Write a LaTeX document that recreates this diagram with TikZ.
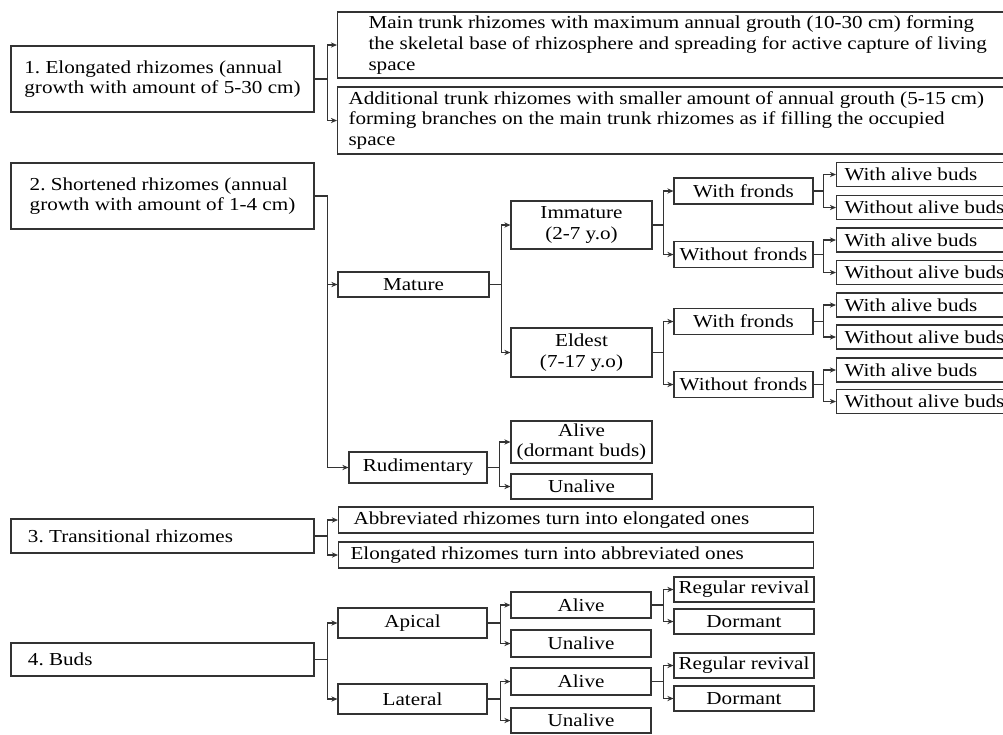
\documentclass[tikz,border=0pt]{standalone}
\usepackage{fontspec}
\setmainfont{Liberation Serif}[FakeStretch=1.155]
\usetikzlibrary{arrows.meta}

\begin{document}
\begin{tikzpicture}[
      box/.style={draw=black!80, line width=0.6pt, rectangle, inner sep=0pt, align=center, font=\fontsize{10.4}{11.8}\selectfont\frenchspacing},
      group/.style={box, minimum width=6.06cm, align=flush left},
      wide/.style={box, anchor=west, align=flush left},
      leaf/.style={box, anchor=west, align=flush left, inner xsep=0.16cm, text width=3.3cm, minimum height=0.48cm},
      fronds/.style={box, minimum width=2.78cm, minimum height=0.52cm},
      link/.style={draw=black!80, line width=0.6pt, -{Stealth[length=3.5pt,width=3pt]}}
    ]
    \useasboundingbox (0,0) rectangle (20.06,-14.68);

    % --- 1. Elongated rhizomes ---
    \node[group, minimum height=1.32cm] (r1) at (3.25,-1.58) {1. Elongated rhizomes (annual\\growth with amount of 5-30 cm)};
    \node[wide, inner xsep=0.62cm, text width=13.2cm, minimum height=1.32cm] (r1a) at (6.74,-0.9) {Main trunk rhizomes with maximum annual grouth (10-30 cm) forming\\the skeletal base of rhizosphere and spreading for active capture of living\\space};
    \node[wide, inner xsep=0.22cm, text width=13.4cm, minimum height=1.34cm] (r1b) at (6.74,-2.41) {Additional trunk rhizomes with smaller amount of annual grouth (5-15 cm)\\forming branches on the main trunk rhizomes as if filling the occupied\\space};
    \draw[link] (r1.east) -- ++(0.25,0) |- (r1a.west);
    \draw[link] (r1.east) -- ++(0.25,0) |- (r1b.west);

    % --- 2. Shortened rhizomes ---
    \node[group, minimum height=1.32cm] (r2) at (3.25,-3.92) {2. Shortened rhizomes (annual\\growth with amount of 1-4 cm)};
    \node[box, minimum width=3.02cm, minimum height=0.5cm] (mat) at (8.27,-5.69) {Mature};
    \node[box, minimum width=2.76cm, minimum height=0.62cm] (rud) at (8.36,-9.35) {Rudimentary};
    \node[box, minimum width=2.82cm, minimum height=0.96cm] (imm) at (11.63,-4.5) {Immature\\(2-7 y.o)};
    \node[box, minimum width=2.82cm, minimum height=0.98cm] (eld) at (11.63,-7.05) {Eldest\\(7-17 y.o)};
    \node[fronds] (imw) at (14.87,-3.82) {With fronds};
    \node[fronds] (imn) at (14.87,-5.09) {Without fronds};
    \node[fronds] (elw) at (14.87,-6.43) {With fronds};
    \node[fronds] (eln) at (14.87,-7.69) {Without fronds};
    \node[leaf] (imw1) at (16.72,-3.49) {With alive buds};
    \node[leaf] (imw2) at (16.72,-4.15) {Without alive buds};
    \node[leaf] (imn1) at (16.72,-4.8) {With alive buds};
    \node[leaf] (imn2) at (16.72,-5.45) {Without alive buds};
    \node[leaf] (elw1) at (16.72,-6.1) {With alive buds};
    \node[leaf] (elw2) at (16.72,-6.74) {Without alive buds};
    \node[leaf] (eln1) at (16.72,-7.4) {With alive buds};
    \node[leaf] (eln2) at (16.72,-8.03) {Without alive buds};
    \node[box, minimum width=2.82cm, minimum height=0.84cm] (rud1) at (11.63,-8.84) {Alive\\(dormant buds)};
    \node[box, minimum width=2.82cm, minimum height=0.5cm] (rud2) at (11.63,-9.73) {Unalive};
    \draw[link] (r2.east) -- ++(0.25,0) |- (mat.west);
    \draw[link] (r2.east) -- ++(0.25,0) |- (rud.west);
    \draw[link] (mat.east) -- ++(0.23,0) |- (imm.west);
    \draw[link] (mat.east) -- ++(0.23,0) |- (eld.west);
    \draw[link] (imm.east) -- ++(0.22,0) |- (imw.west);
    \draw[link] (imm.east) -- ++(0.22,0) |- (imn.west);
    \draw[link] (eld.east) -- ++(0.22,0) |- (elw.west);
    \draw[link] (eld.east) -- ++(0.22,0) |- (eln.west);
    \draw[link] (imw.east) -- ++(0.2,0) |- (imw1.west);
    \draw[link] (imw.east) -- ++(0.2,0) |- (imw2.west);
    \draw[link] (imn.east) -- ++(0.2,0) |- (imn1.west);
    \draw[link] (imn.east) -- ++(0.2,0) |- (imn2.west);
    \draw[link] (elw.east) -- ++(0.2,0) |- (elw1.west);
    \draw[link] (elw.east) -- ++(0.2,0) |- (elw2.west);
    \draw[link] (eln.east) -- ++(0.2,0) |- (eln1.west);
    \draw[link] (eln.east) -- ++(0.2,0) |- (eln2.west);
    \draw[link] (rud.east) -- ++(0.24,0) |- (rud1.west);
    \draw[link] (rud.east) -- ++(0.24,0) |- (rud2.west);

    % --- 3. Transitional rhizomes ---
    \node[group, inner xsep=0.34cm, text width=5.38cm, minimum height=0.68cm] (r3) at (3.25,-10.72) {3. Transitional rhizomes};
    \node[wide, inner xsep=0.3cm, text width=8.9cm, minimum height=0.52cm] (r3a) at (6.76,-10.4) {Abbreviated rhizomes turn into elongated ones};
    \node[wide, inner xsep=0.24cm, text width=9.02cm, minimum height=0.52cm] (r3b) at (6.76,-11.1) {Elongated rhizomes turn into abbreviated ones};
    \draw[link] (r3.east) -- ++(0.25,0) |- (r3a.west);
    \draw[link] (r3.east) -- ++(0.25,0) |- (r3b.west);

    % --- 4. Buds ---
    \node[group, inner xsep=0.34cm, text width=5.38cm, minimum height=0.66cm] (r4) at (3.25,-13.19) {4. Buds};
    \node[box, minimum width=2.98cm, minimum height=0.6cm] (api) at (8.25,-12.46) {Apical};
    \node[box, minimum width=2.98cm, minimum height=0.6cm] (lat) at (8.25,-13.98) {Lateral};
    \node[box, minimum width=2.8cm, minimum height=0.52cm] (apa) at (11.62,-12.1) {Alive};
    \node[box, minimum width=2.8cm, minimum height=0.54cm] (apu) at (11.62,-12.87) {Unalive};
    \node[box, minimum width=2.8cm, minimum height=0.54cm] (laa) at (11.62,-13.63) {Alive};
    \node[box, minimum width=2.8cm, minimum height=0.5cm] (lau) at (11.62,-14.41) {Unalive};
    \node[box, minimum width=2.8cm, minimum height=0.5cm] (apa1) at (14.88,-11.79) {Regular revival};
    \node[box, minimum width=2.8cm, minimum height=0.5cm] (apa2) at (14.88,-12.43) {Dormant};
    \node[box, minimum width=2.8cm, minimum height=0.5cm] (laa1) at (14.88,-13.31) {Regular revival};
    \node[box, minimum width=2.8cm, minimum height=0.5cm] (laa2) at (14.88,-13.97) {Dormant};
    \draw[link] (r4.east) -- ++(0.25,0) |- (api.west);
    \draw[link] (r4.east) -- ++(0.25,0) |- (lat.west);
    \draw[link] (api.east) -- ++(0.26,0) |- (apa.west);
    \draw[link] (api.east) -- ++(0.26,0) |- (apu.west);
    \draw[link] (lat.east) -- ++(0.26,0) |- (laa.west);
    \draw[link] (lat.east) -- ++(0.26,0) |- (lau.west);
    \draw[link] (apa.east) -- ++(0.24,0) |- (apa1.west);
    \draw[link] (apa.east) -- ++(0.24,0) |- (apa2.west);
    \draw[link] (laa.east) -- ++(0.24,0) |- (laa1.west);
    \draw[link] (laa.east) -- ++(0.24,0) |- (laa2.west);
  \end{tikzpicture}
\end{document}
